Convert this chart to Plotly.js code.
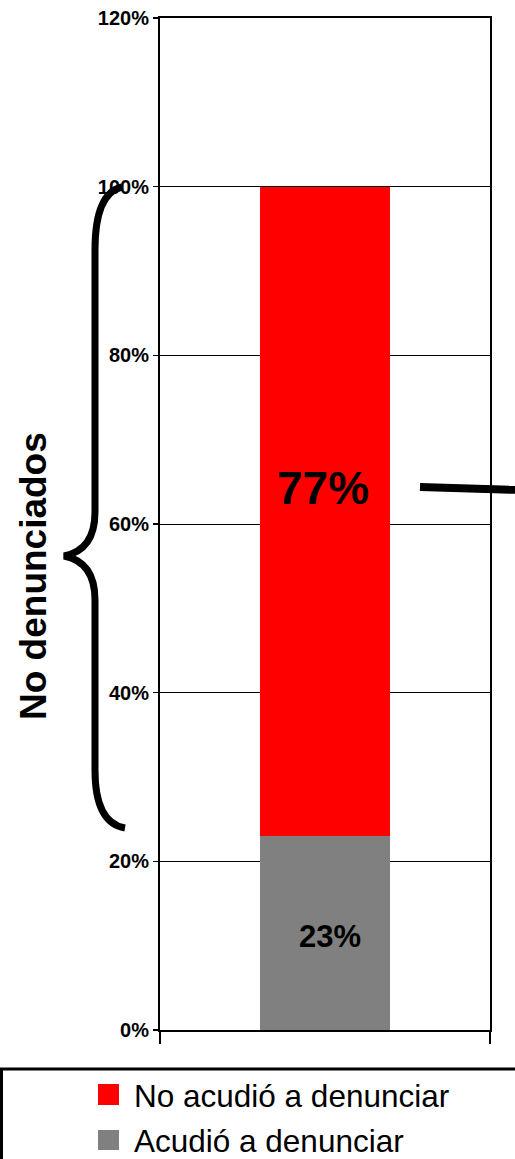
<!DOCTYPE html>
<html>
<head>
<meta charset="utf-8">
<script src="https://cdn.plot.ly/plotly-3.0.1.min.js"></script>
<style>html,body{margin:0;padding:0;background:#fff;}#chart{width:515px;height:1159px;}</style>
</head>
<body>
<div id="chart"></div>
<script>
var categories = [''];
var seriesNames = ['Acudió a denunciar', 'No acudió a denunciar'];
var acudio = [23];
var noAcudio = [77];
var seriesColors = ['#808080', '#ff0000'];
var yTickVals = [0, 20, 40, 60, 80, 100, 120];
var yTickText = ['0%', '20%', '40%', '60%', '80%', '100%', '120%'];
var braceLabel = 'No denunciados';

var W = 515, H = 1159;
var L = 160, R = 25, T = 18, B = 129;
var pw = W - L - R, ph = H - T - B;
function px(x) { return (x - L) / pw; }
function py(y) { return (H - B - y) / ph; }
function P(x, y) { return px(x).toFixed(5) + ',' + py(y).toFixed(5); }

var FONT = '"Liberation Sans", Arial, sans-serif';

var traces = [
  {type: 'bar', x: [0], y: acudio, name: seriesNames[0], marker: {color: seriesColors[0]}, width: 0.394, hoverinfo: 'none'},
  {type: 'bar', x: [0], y: noAcudio, name: seriesNames[1], marker: {color: seriesColors[1]}, width: 0.394, hoverinfo: 'none'}
];

var annotations = [
  {x: 0, y: acudio[0] + noAcudio[0] / 2, xref: 'x', yref: 'y', text: '<b>' + noAcudio[0] + '%</b>', showarrow: false,
   xanchor: 'center', yanchor: 'middle', yshift: 23, xshift: -2, font: {family: FONT, size: 46, color: '#000'}},
  {x: 0, y: acudio[0] / 2, xref: 'x', yref: 'y', text: '<b>' + acudio[0] + '%</b>', showarrow: false,
   xanchor: 'center', yanchor: 'middle', yshift: -3, xshift: 5, font: {family: FONT, size: 31, color: '#000'}},
  {x: px(34), y: py(576), xref: 'paper', yref: 'paper', xanchor: 'center', yanchor: 'middle', text: '<b>' + braceLabel + '</b>',
   textangle: -90, showarrow: false, font: {family: FONT, size: 37, color: '#000'}},
  {x: px(132), y: py(1096), xref: 'paper', yref: 'paper', xanchor: 'left', yanchor: 'middle', text: seriesNames[1], showarrow: false,
   font: {family: FONT, size: 31.5, color: '#000'}},
  {x: px(132), y: py(1141), xref: 'paper', yref: 'paper', xanchor: 'left', yanchor: 'middle', text: seriesNames[0], showarrow: false,
   font: {family: FONT, size: 31.5, color: '#000'}}
];

var bracePath = 'M' + P(122, 187) + ' Q' + P(95, 193) + ' ' + P(95, 250) + ' L' + P(95, 512) +
  ' Q' + P(95, 550) + ' ' + P(64, 556) + ' Q' + P(95, 562) + ' ' + P(95, 600) + ' L' + P(95, 770) +
  ' Q' + P(95, 823) + ' ' + P(125, 828);

var shapes = [
  {type: 'path', xref: 'paper', yref: 'paper', path: bracePath, line: {color: '#000', width: 7}},
  {type: 'line', xref: 'paper', yref: 'paper', x0: px(420), y0: py(487), x1: px(520), y1: py(490), line: {color: '#000', width: 8}},
  {type: 'rect', xref: 'paper', yref: 'paper', x0: px(1.5), y0: py(1069), x1: px(560), y1: py(1200), line: {color: '#000', width: 3}},
  {type: 'rect', xref: 'paper', yref: 'paper', x0: px(98), y0: py(1084), x1: px(119), y1: py(1105), fillcolor: seriesColors[1], line: {width: 0}},
  {type: 'rect', xref: 'paper', yref: 'paper', x0: px(98), y0: py(1130), x1: px(119), y1: py(1150), fillcolor: seriesColors[0], line: {width: 0}}
];

var layout = {
  width: W, height: H,
  margin: {l: L, r: R, t: T, b: B, pad: 0},
  paper_bgcolor: '#fff', plot_bgcolor: '#fff',
  barmode: 'stack',
  showlegend: false,
  xaxis: {range: [-0.5, 0.5], showgrid: false, zeroline: false, showline: true, mirror: true, linecolor: '#000', linewidth: 2,
          tickvals: [-0.5, 0.5], ticks: 'outside', ticklen: 12, tickwidth: 1.5, tickcolor: '#000', showticklabels: false, fixedrange: true},
  yaxis: {range: [0, 120], tickvals: yTickVals, ticktext: yTickText, showgrid: true, gridcolor: '#000', gridwidth: 1,
          zeroline: false, showline: true, mirror: true, linecolor: '#000', linewidth: 2,
          ticks: 'outside', ticklen: 5, tickwidth: 1.5, tickcolor: '#000', ticklabelstandoff: 0,
          tickfont: {family: FONT, size: 20, color: '#000', weight: 'bold'}, fixedrange: true},
  annotations: annotations,
  shapes: shapes
};

Plotly.newPlot('chart', traces, layout, {displayModeBar: false, staticPlot: true});
</script>
</body>
</html>
